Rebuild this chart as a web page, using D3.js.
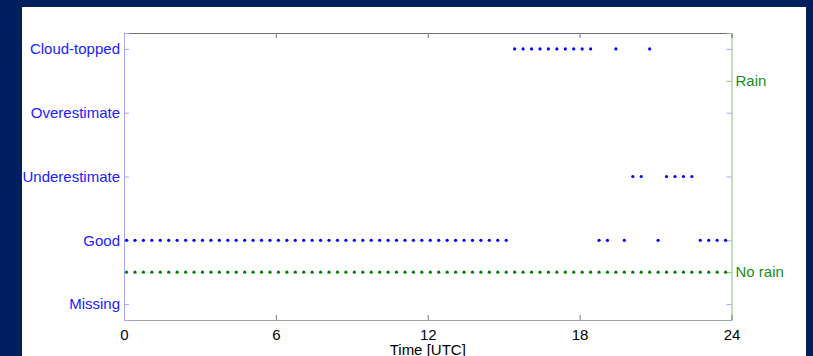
<!DOCTYPE html>
<html>
<head>
<meta charset="utf-8">
<script src="https://cdn.jsdelivr.net/npm/d3@7"></script>
<style>
  html, body { margin: 0; padding: 0; background: #001f5f; }
  svg { display: block; }
  text { font-family: "Liberation Sans", Arial, sans-serif; }
</style>
</head>
<body>
<svg id="chart" width="813" height="356"></svg>
<script>
// Retrieval quality classes (left axis) and rain flag classes (right axis)
const qualityCategories = ["Missing", "Good", "Underestimate", "Overestimate", "Cloud-topped"];
const rainCategories = ["No rain", "Rain"];
const timeTicks = [0, 6, 12, 18, 24];

// Observation times (UTC)
const times = [
  "00:06", "00:26", "00:46", "01:06", "01:26", "01:46", "02:06", "02:26", "02:46",
  "03:06", "03:26", "03:46", "04:06", "04:26", "04:46", "05:06", "05:26", "05:46",
  "06:06", "06:26", "06:46", "07:06", "07:26", "07:46", "08:06", "08:26", "08:46",
  "09:06", "09:26", "09:46", "10:06", "10:26", "10:46", "11:06", "11:26", "11:46",
  "12:06", "12:26", "12:46", "13:06", "13:26", "13:46", "14:06", "14:26", "14:46",
  "15:06", "15:26", "15:46", "16:06", "16:26", "16:46", "17:06", "17:26", "17:46",
  "18:06", "18:26", "18:46", "19:06", "19:26", "19:46", "20:06", "20:26", "20:46",
  "21:06", "21:26", "21:46", "22:06", "22:26", "22:46", "23:06", "23:26", "23:46"
];

// Quality class index per time (index into qualityCategories)
const quality = [
  1, 1, 1, 1, 1, 1, 1, 1, 1,
  1, 1, 1, 1, 1, 1, 1, 1, 1,
  1, 1, 1, 1, 1, 1, 1, 1, 1,
  1, 1, 1, 1, 1, 1, 1, 1, 1,
  1, 1, 1, 1, 1, 1, 1, 1, 1,
  1, 4, 4, 4, 4, 4, 4, 4, 4,
  4, 4, 1, 1, 4, 1, 2, 2, 4,
  1, 2, 2, 2, 2, 1, 1, 1, 1
];

// Rain flag per time (index into rainCategories)
const rain = [
  0, 0, 0, 0, 0, 0, 0, 0, 0,
  0, 0, 0, 0, 0, 0, 0, 0, 0,
  0, 0, 0, 0, 0, 0, 0, 0, 0,
  0, 0, 0, 0, 0, 0, 0, 0, 0,
  0, 0, 0, 0, 0, 0, 0, 0, 0,
  0, 0, 0, 0, 0, 0, 0, 0, 0,
  0, 0, 0, 0, 0, 0, 0, 0, 0,
  0, 0, 0, 0, 0, 0, 0, 0, 0
];

const toHours = s => { const [h, m] = s.split(":").map(Number); return h + m / 60; };
const hours = times.map(toHours);

const svg = d3.select("#chart");

// White figure panel
svg.append("rect").attr("x", 22).attr("y", 7).attr("width", 784).attr("height", 360).attr("fill", "#ffffff");

const plotLeft = 124, plotRight = 731.5, plotTop = 33, plotBottom = 320;

const x = d3.scaleLinear().domain([0, 24]).range([plotLeft, plotRight]);
const yQ = d3.scaleLinear().domain([-0.25, 4.25]).range([plotBottom, plotTop]);
const yR = d3.scaleLinear().domain([-0.25, 1.25]).range([plotBottom, plotTop]);

const blue = "#0000ff", blueText = "#2020ff", blueLine = "#a8a8ff";
const green = "#008000", greenText = "#1a8c1a", greenLine = "#80c080";
const grey = "#808080";
const fontSize = 15;
const fontFamily = "'Liberation Sans', Arial, sans-serif";

// Bottom x axis
const xBottom = svg.append("g").attr("transform", `translate(0,${plotBottom})`)
  .call(d3.axisBottom(x).tickValues(timeTicks).tickSize(-5).tickPadding(9).tickFormat(d3.format("d")));
xBottom.select(".domain").attr("stroke", "#a0a0a0");
xBottom.selectAll(".tick line").attr("stroke", grey);
xBottom.selectAll(".tick text").attr("fill", "#000").style("font-size", fontSize + "px")
  .style("font-family", fontFamily);

// Top x axis (box)
const xTop = svg.append("g").attr("transform", `translate(0,${plotTop})`)
  .call(d3.axisTop(x).tickValues(timeTicks).tickSize(-5).tickFormat(""));
xTop.select(".domain").attr("stroke", "#707070");
xTop.selectAll(".tick line").attr("stroke", grey);

// Left axis: quality classes
const yLeft = svg.append("g").attr("transform", `translate(${plotLeft},0)`)
  .call(d3.axisLeft(yQ).tickValues(d3.range(qualityCategories.length)).tickSize(-5).tickPadding(4)
    .tickFormat(i => qualityCategories[i]));
yLeft.select(".domain").attr("stroke", blueLine);
yLeft.selectAll(".tick line").attr("stroke", blueLine);
yLeft.selectAll(".tick text").attr("fill", blueText).style("font-size", fontSize + "px")
  .style("font-family", fontFamily);

// Mirror of the quality ticks on the right edge
const yLeftMirror = svg.append("g").attr("transform", `translate(${plotRight},0)`)
  .call(d3.axisRight(yQ).tickValues(d3.range(qualityCategories.length)).tickSize(-5).tickFormat(""));
yLeftMirror.select(".domain").remove();
yLeftMirror.selectAll(".tick line").attr("stroke", blueLine);

// Right axis: rain classes
const yRight = svg.append("g").attr("transform", `translate(${plotRight},0)`)
  .call(d3.axisRight(yR).tickValues(d3.range(rainCategories.length)).tickSize(-5).tickPadding(4)
    .tickFormat(i => rainCategories[i]));
yRight.select(".domain").attr("stroke", greenLine);
yRight.selectAll(".tick line").attr("stroke", greenLine);
yRight.selectAll(".tick text").attr("fill", greenText).style("font-size", fontSize + "px")
  .style("font-family", fontFamily);

// X axis title
svg.append("text").attr("x", (plotLeft + plotRight) / 2).attr("y", 355)
  .attr("text-anchor", "middle").attr("fill", "#000").style("font-size", fontSize + "px")
  .text("Time [UTC]");

// Rain flag markers
svg.append("g").selectAll("circle").data(hours).join("circle")
  .attr("cx", (d) => x(d)).attr("cy", (d, i) => yR(rain[i]))
  .attr("r", 1.6).attr("fill", green);

// Quality markers
svg.append("g").selectAll("circle").data(hours).join("circle")
  .attr("cx", (d) => x(d)).attr("cy", (d, i) => yQ(quality[i]))
  .attr("r", 1.6).attr("fill", blue);
</script>
</body>
</html>
